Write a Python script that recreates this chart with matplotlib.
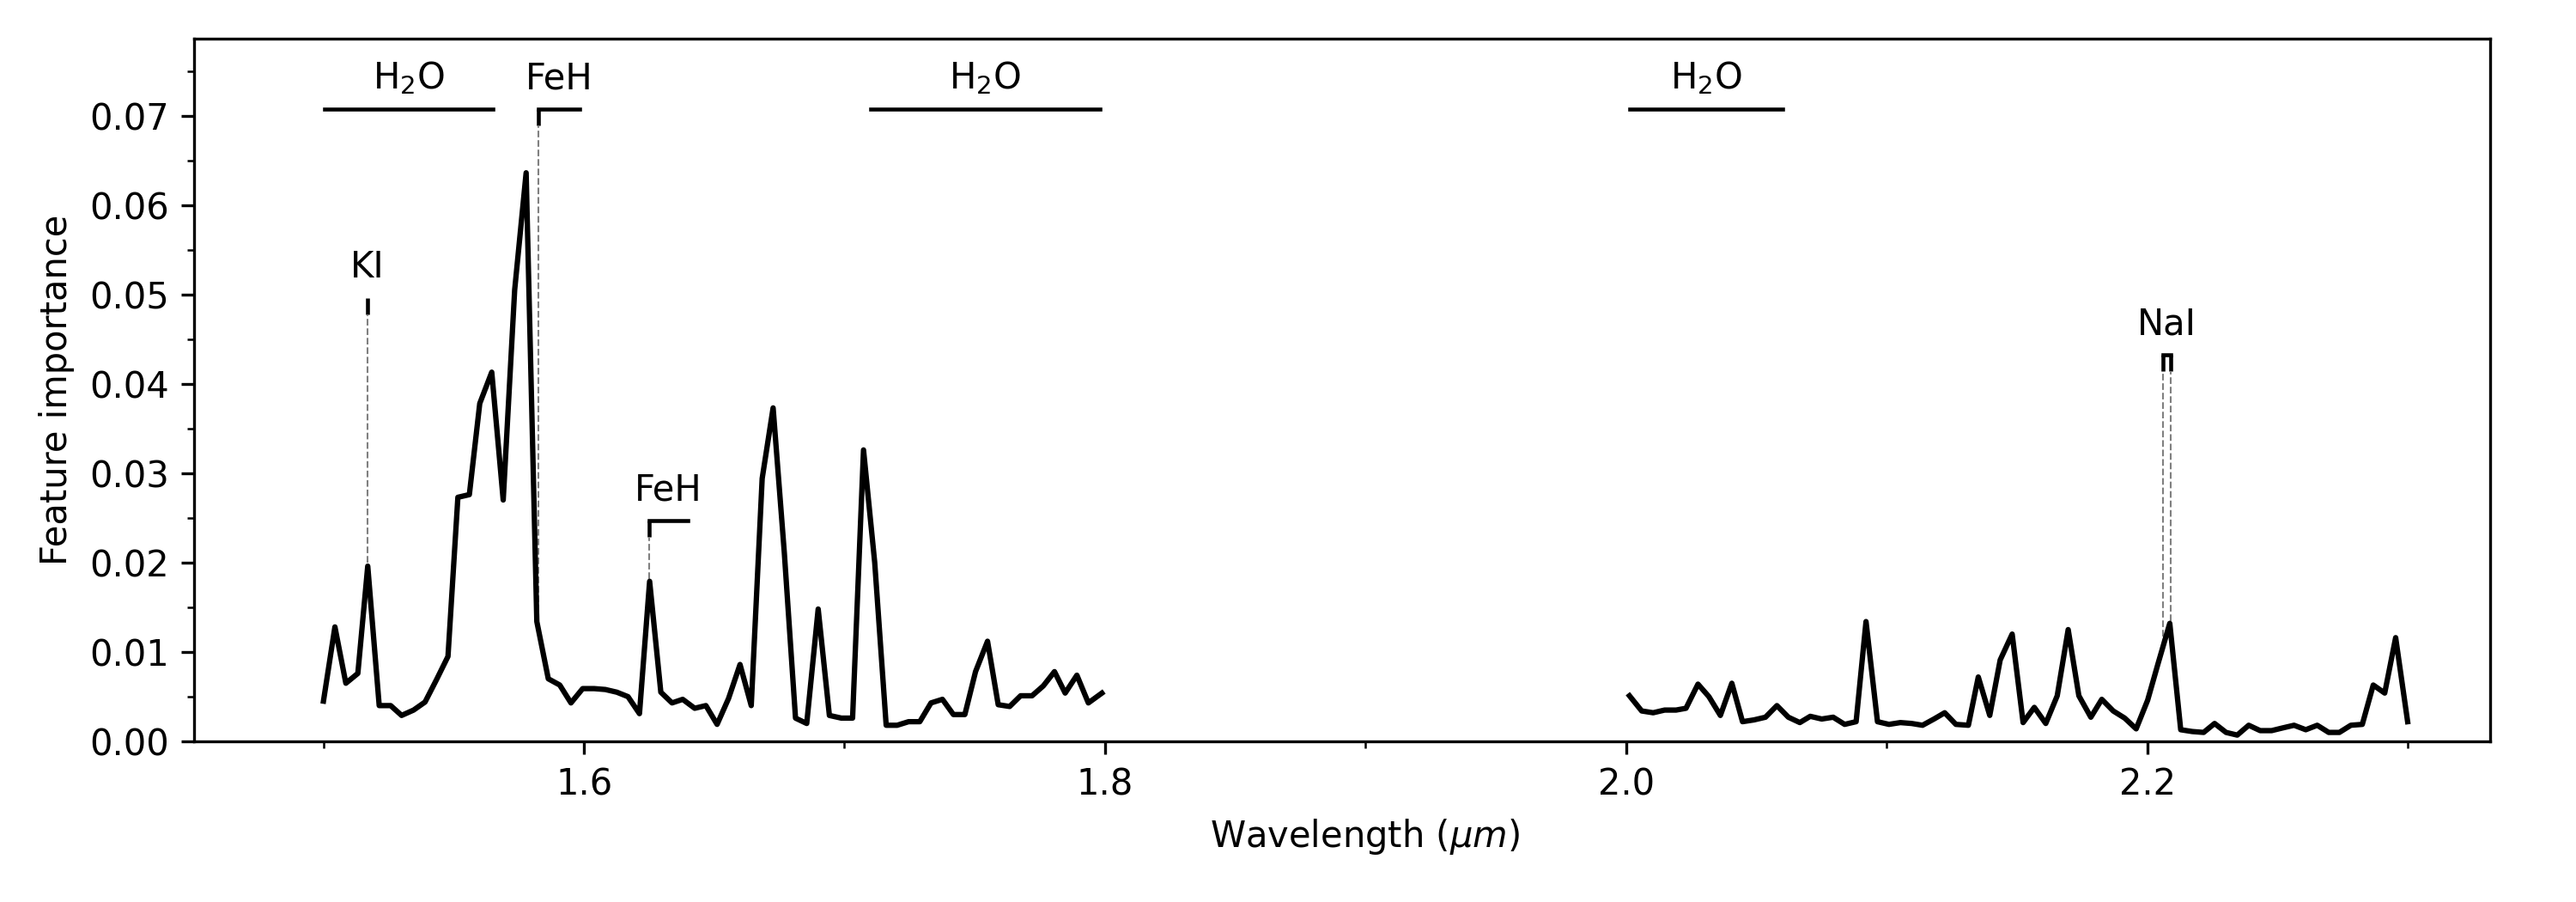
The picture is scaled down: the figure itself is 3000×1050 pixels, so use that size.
import numpy as np
import matplotlib
matplotlib.use('Agg')
import matplotlib.pyplot as plt
from matplotlib.ticker import MultipleLocator

# ------------------------------------------------------------------
# Feature importance, H band segment
# ------------------------------------------------------------------
wl_h = [1.5000, 1.5044, 1.5086, 1.5132, 1.5170, 1.5214, 1.5258, 1.5300, 1.5346, 1.5390,
        1.5434, 1.5478, 1.5516, 1.5560, 1.5600, 1.5646, 1.5690, 1.5734, 1.5778, 1.5819,
        1.5863, 1.5907, 1.5950, 1.5995, 1.6039, 1.6082, 1.6126, 1.6169, 1.6213, 1.6252,
        1.6295, 1.6338, 1.6379, 1.6425, 1.6468, 1.6511, 1.6555, 1.6599, 1.6642, 1.6684,
        1.6726, 1.6769, 1.6812, 1.6855, 1.6899, 1.6942, 1.6988, 1.7031, 1.7073, 1.7116,
        1.7160, 1.7202, 1.7246, 1.7289, 1.7332, 1.7376, 1.7418, 1.7462, 1.7503, 1.7549,
        1.7590, 1.7634, 1.7676, 1.7720, 1.7763, 1.7806, 1.7847, 1.7892, 1.7936, 1.7988]
imp_h = [0.0045, 0.0128, 0.0065, 0.0076, 0.0196, 0.0040, 0.0040, 0.0029, 0.0035, 0.0044,
         0.0069, 0.0095, 0.0273, 0.0276, 0.0378, 0.0413, 0.0270, 0.0505, 0.0636, 0.0134,
         0.0070, 0.0063, 0.0043, 0.0059, 0.0059, 0.0058, 0.0055, 0.0050, 0.0031, 0.0179,
         0.0055, 0.0043, 0.0047, 0.0037, 0.0040, 0.0019, 0.0048, 0.0086, 0.0040, 0.0294,
         0.0373, 0.0211, 0.0026, 0.0020, 0.0148, 0.0029, 0.0026, 0.0026, 0.0326, 0.0200,
         0.0018, 0.0018, 0.0022, 0.0022, 0.0043, 0.0047, 0.0030, 0.0030, 0.0078, 0.0112,
         0.0041, 0.0039, 0.0051, 0.0051, 0.0062, 0.0078, 0.0054, 0.0074, 0.0043, 0.0054]

# ------------------------------------------------------------------
# Feature importance, K band segment
# ------------------------------------------------------------------
wl_k = [2.0013, 2.0060, 2.0104, 2.0148, 2.0192, 2.0230, 2.0276, 2.0318, 2.0362, 2.0406,
        2.0447, 2.0491, 2.0535, 2.0579, 2.0623, 2.0667, 2.0707, 2.0751, 2.0795, 2.0839,
        2.0883, 2.0921, 2.0965, 2.1009, 2.1053, 2.1096, 2.1138, 2.1182, 2.1223, 2.1266,
        2.1314, 2.1352, 2.1396, 2.1436, 2.1482, 2.1524, 2.1567, 2.1611, 2.1655, 2.1697,
        2.1738, 2.1784, 2.1826, 2.1870, 2.1914, 2.1958, 2.2002, 2.2043, 2.2087, 2.2129,
        2.2173, 2.2217, 2.2259, 2.2303, 2.2346, 2.2390, 2.2434, 2.2478, 2.2520, 2.2564,
        2.2609, 2.2653, 2.2697, 2.2738, 2.2782, 2.2826, 2.2868, 2.2912, 2.2954, 2.3000]
imp_k = [0.0051, 0.0034, 0.0032, 0.0035, 0.0035, 0.0037, 0.0064, 0.0050, 0.0029, 0.0065,
         0.0022, 0.0024, 0.0027, 0.0040, 0.0027, 0.0021, 0.0028, 0.0025, 0.0027, 0.0019,
         0.0022, 0.0134, 0.0022, 0.0019, 0.0021, 0.0020, 0.0018, 0.0025, 0.0032, 0.0019,
         0.0018, 0.0072, 0.0029, 0.0091, 0.0120, 0.0021, 0.0038, 0.0020, 0.0051, 0.0125,
         0.0051, 0.0027, 0.0047, 0.0034, 0.0026, 0.0014, 0.0046, 0.0088, 0.0132, 0.0013,
         0.0011, 0.0010, 0.0020, 0.0010, 0.0007, 0.0018, 0.0012, 0.0012, 0.0015, 0.0018,
         0.0013, 0.0018, 0.0010, 0.0010, 0.0018, 0.0019, 0.0063, 0.0054, 0.0116, 0.0022]

# molecular bands: (label, start, end)
bands = [(r'H$_2$O', 1.5005, 1.5650),
         (r'H$_2$O', 1.7100, 1.7980),
         (r'H$_2$O', 2.0015, 2.0600)]
band_y = 0.0707

# line features: (label, wavelengths, bracket end, bracket top)
features = [('KI',  [1.5168],          None,   0.0496),
            ('FeH', [1.5826],          1.5982, 0.0707),
            ('FeH', [1.6250],          1.6400, 0.0247),
            ('NaI', [2.2062, 2.2090],  None,   0.0432)]
tick_len = 0.0018
label_off = 0.0023

fig = plt.figure(figsize=(10, 3.5), dpi=300)
ax = fig.add_axes([0.0753, 0.1781, 0.8913, 0.779])

ax.plot(wl_h, imp_h, color='black', lw=1.5, zorder=3)
ax.plot(wl_k, imp_k, color='black', lw=1.5, zorder=3)

all_wl = np.array(wl_h + wl_k)
all_imp = np.array(imp_h + imp_k)

for label, x0, x1 in bands:
    ax.plot([x0, x1], [band_y, band_y], color='black', lw=1.1)
    ax.text((x0 + x1) / 2, band_y + label_off, label, ha='center', va='baseline', fontsize=10)

for label, lines, xend, ytop in features:
    ybot = ytop - tick_len
    for xl in lines:
        ax.plot([xl, xl], [ybot, ytop], color='black', lw=1.1, solid_capstyle='butt')
        yd = np.interp(xl, all_wl, all_imp)
        ax.plot([xl, xl], [yd, ybot], color='gray', lw=0.5, ls='--', zorder=2)
    if len(lines) > 1:
        ax.plot([lines[0], lines[-1]], [ytop, ytop], color='black', lw=1.1)
        xc = np.mean(lines)
    elif xend is not None:
        ax.plot([lines[0], xend], [ytop, ytop], color='black', lw=1.1)
        xc = (lines[0] + xend) / 2
    else:
        xc = lines[0]
    ax.text(xc, ytop + label_off, label, ha='center', va='baseline', fontsize=10)

ax.set_xlim(1.4503, 2.3316)
ax.set_ylim(0, 0.0786)
ax.xaxis.set_major_locator(MultipleLocator(0.2))
ax.xaxis.set_minor_locator(MultipleLocator(0.1))
ax.yaxis.set_major_locator(MultipleLocator(0.01))
ax.yaxis.set_minor_locator(MultipleLocator(0.005))
ax.tick_params(labelsize=10)
ax.set_xlabel(r'Wavelength ($\mu m$)', fontsize=10)
ax.set_ylabel('Feature importance', fontsize=10)
ax.xaxis.set_label_coords(0.510, -0.107)

fig.savefig('out.png', dpi=300)
